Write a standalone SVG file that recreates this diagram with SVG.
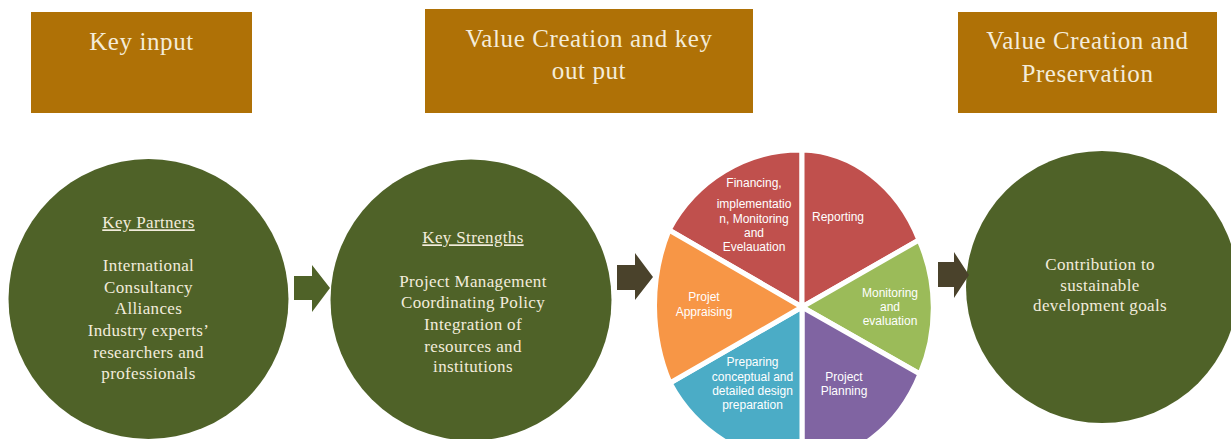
<svg xmlns="http://www.w3.org/2000/svg" width="1231" height="439" viewBox="0 0 1231 439">
<style>
.hdr{fill:#af7106}
.hdrt{font-family:"Liberation Serif",serif;font-size:25px;letter-spacing:0.6px;fill:#f4ecd9;text-anchor:middle}
.circ{fill:#4f6228}
.ct{font-family:"Liberation Serif",serif;font-size:17px;letter-spacing:0.35px;fill:#f2ecdc;text-anchor:middle}
.ul{text-decoration:underline}
.sl{stroke:#fff;stroke-width:5;stroke-linejoin:miter}
.pt{font-family:"Liberation Sans",sans-serif;font-size:12px;fill:#fff;text-anchor:middle}
.arrG{fill:#4f6228}
.arrD{fill:#4a422b}
</style>
<rect width="1231" height="439" fill="#fff"/>

<g id="header-key-input">
<rect class="hdr" x="31" y="12" width="221" height="101"/>
<text class="hdrt" x="141.5" y="50">Key input</text>
</g>
<g id="header-value-creation">
<rect class="hdr" x="425" y="9" width="328" height="104"/>
<text class="hdrt" x="589" y="47">Value Creation and key</text>
<text class="hdrt" x="589" y="79">out put</text>
</g>
<g id="header-preservation">
<rect class="hdr" x="958" y="12" width="259" height="101"/>
<text class="hdrt" x="1087.5" y="49">Value Creation and</text>
<text class="hdrt" x="1087.5" y="82">Preservation</text>
</g>

<g id="node-key-partners">
<circle class="circ" cx="148.5" cy="299" r="140"/>
<text class="ct ul" x="148.5" y="228.3">Key Partners</text>
<text class="ct" x="148.5" y="271">International</text>
<text class="ct" x="148.5" y="292.7">Consultancy</text>
<text class="ct" x="148.5" y="314.3">Alliances</text>
<text class="ct" x="148.5" y="336">Industry experts’</text>
<text class="ct" x="148.5" y="357.7">researchers and</text>
<text class="ct" x="148.5" y="379.3">professionals</text>
</g>

<g id="node-key-strengths">
<circle class="circ" cx="471" cy="300" r="140.5"/>
<text class="ct ul" x="473" y="243.3">Key Strengths</text>
<text class="ct" x="473" y="286.7">Project Management</text>
<text class="ct" x="473" y="308.3">Coordinating Policy</text>
<text class="ct" x="473" y="330">Integration of</text>
<text class="ct" x="473" y="351.7">resources and</text>
<text class="ct" x="473" y="372.3">institutions</text>
</g>

<g id="node-cycle">
<path id="slice-financing" class="sl" fill="#c0504d" d="M802,307 L669,230 A150,156 0 0,1 802,150 Z"/>
<path id="slice-reporting" class="sl" fill="#c0504d" d="M802,307 L802,150 A132,156 0 0,1 919,240 Z"/>
<path id="slice-monitoring" class="sl" fill="#9bbb59" d="M802,307 L919,240 A131,150 0 0,1 920,374 Z"/>
<path id="slice-planning" class="sl" fill="#8064a2" d="M802,307 L920,374 A132,156 0 0,1 802,463 Z"/>
<path id="slice-preparing" class="sl" fill="#4bacc6" d="M802,307 L802,463 A150,156 0 0,1 670,383 Z"/>
<path id="slice-appraising" class="sl" fill="#f79646" d="M802,307 L670,383 A140,170 0 0,1 669,230 Z"/>
<text class="pt" x="754" y="187">Financing,</text>
<text class="pt" x="754" y="208">implementatio</text>
<text class="pt" x="754" y="223">n, Monitoring</text>
<text class="pt" x="754" y="237">and</text>
<text class="pt" x="754" y="251">Evelauation</text>
<text class="pt" x="838" y="221">Reporting</text>
<text class="pt" x="890" y="297">Monitoring</text>
<text class="pt" x="890" y="311">and</text>
<text class="pt" x="890" y="325">evaluation</text>
<text class="pt" x="844" y="381">Project</text>
<text class="pt" x="844" y="395">Planning</text>
<text class="pt" x="752.5" y="366">Preparing</text>
<text class="pt" x="752.5" y="381">conceptual and</text>
<text class="pt" x="752.5" y="395">detailed design</text>
<text class="pt" x="752.5" y="409">preparation</text>
<text class="pt" x="704" y="301">Projet</text>
<text class="pt" x="704" y="316">Appraising</text>
</g>

<g id="node-contribution">
<circle class="circ" cx="1102" cy="287" r="136"/>
<text class="ct" x="1100" y="270">Contribution to</text>
<text class="ct" x="1100" y="290.5">sustainable</text>
<text class="ct" x="1100" y="311">development goals</text>
</g>

<g id="connectors">
<polygon class="arrG" points="294,276 312,276 312,265 330,288 312,312 312,300 294,300"/>
<polygon class="arrD" points="617,265 635,265 635,253 653,277 635,300 635,290 617,290"/>
<polygon class="arrD" points="938,262 954,262 954,252 969,275 954,298 954,287 938,287"/>
</g>
</svg>
